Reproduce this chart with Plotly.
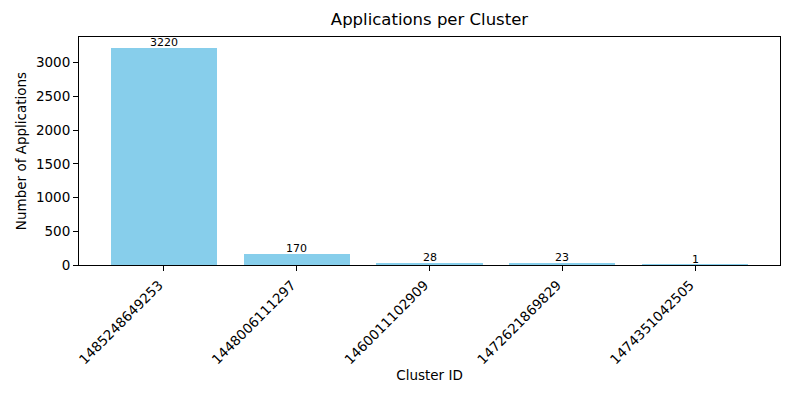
import plotly.graph_objects as go

cluster_ids = ["1485248649253", "1448006111297", "1460011102909", "1472621869829", "1474351042505"]
app_counts = [3220, 170, 28, 23, 1]
y_ticks = [0, 500, 1000, 1500, 2000, 2500, 3000]

FONT = "DejaVu Sans"

fig = go.Figure()
fig.add_trace(go.Bar(
    x=list(range(len(cluster_ids))),
    y=app_counts,
    width=0.8,
    marker=dict(color="#87CEEB", line=dict(width=0)),
    showlegend=False,
))

for i, v in enumerate(app_counts):
    fig.add_annotation(x=i, y=v, text=str(v), showarrow=False,
                       yanchor="bottom", xanchor="center", yshift=-3,
                       font=dict(family=FONT, size=11, color="black"))

fig.update_layout(
    width=800, height=400,
    margin=dict(l=79, r=20, t=37, b=135),
    paper_bgcolor="white", plot_bgcolor="white",
    font=dict(family=FONT, color="black", size=14),
    title=dict(text="Applications per Cluster", x=0.5, xref="paper", xanchor="center",
               y=1, yref="container", yanchor="top", pad=dict(t=13),
               font=dict(family=FONT, size=16.5, color="black")),
    bargap=0,
)
fig.update_xaxes(
    automargin=False,
    range=[-0.64, 4.64],
    tickmode="array", tickvals=list(range(len(cluster_ids))), ticktext=cluster_ids,
    tickangle=-45, ticks="outside", ticklen=5, tickwidth=1, tickcolor="black",
    ticklabelshift=-5, ticklabelstandoff=1,
    showline=True, linecolor="black", linewidth=1, mirror=True,
    showgrid=False, zeroline=False,
    tickfont=dict(family=FONT, size=13.5),
    title=dict(text="Cluster ID", font=dict(family=FONT, size=13.5), standoff=4),
)
fig.update_yaxes(
    automargin=False,
    range=[0, 3220 * 1.05],
    tickmode="array", tickvals=y_ticks,
    ticks="outside", ticklen=5, tickwidth=1, tickcolor="black",
    showline=True, linecolor="black", linewidth=1, mirror=True,
    showgrid=False, zeroline=False,
    tickfont=dict(family=FONT, size=13.5),
    title=dict(text="Number of Applications", font=dict(family=FONT, size=13.5), standoff=6),
)

fig.write_html("out.html", config={"displayModeBar": False},
               post_script="document.body.style.margin='0';")
